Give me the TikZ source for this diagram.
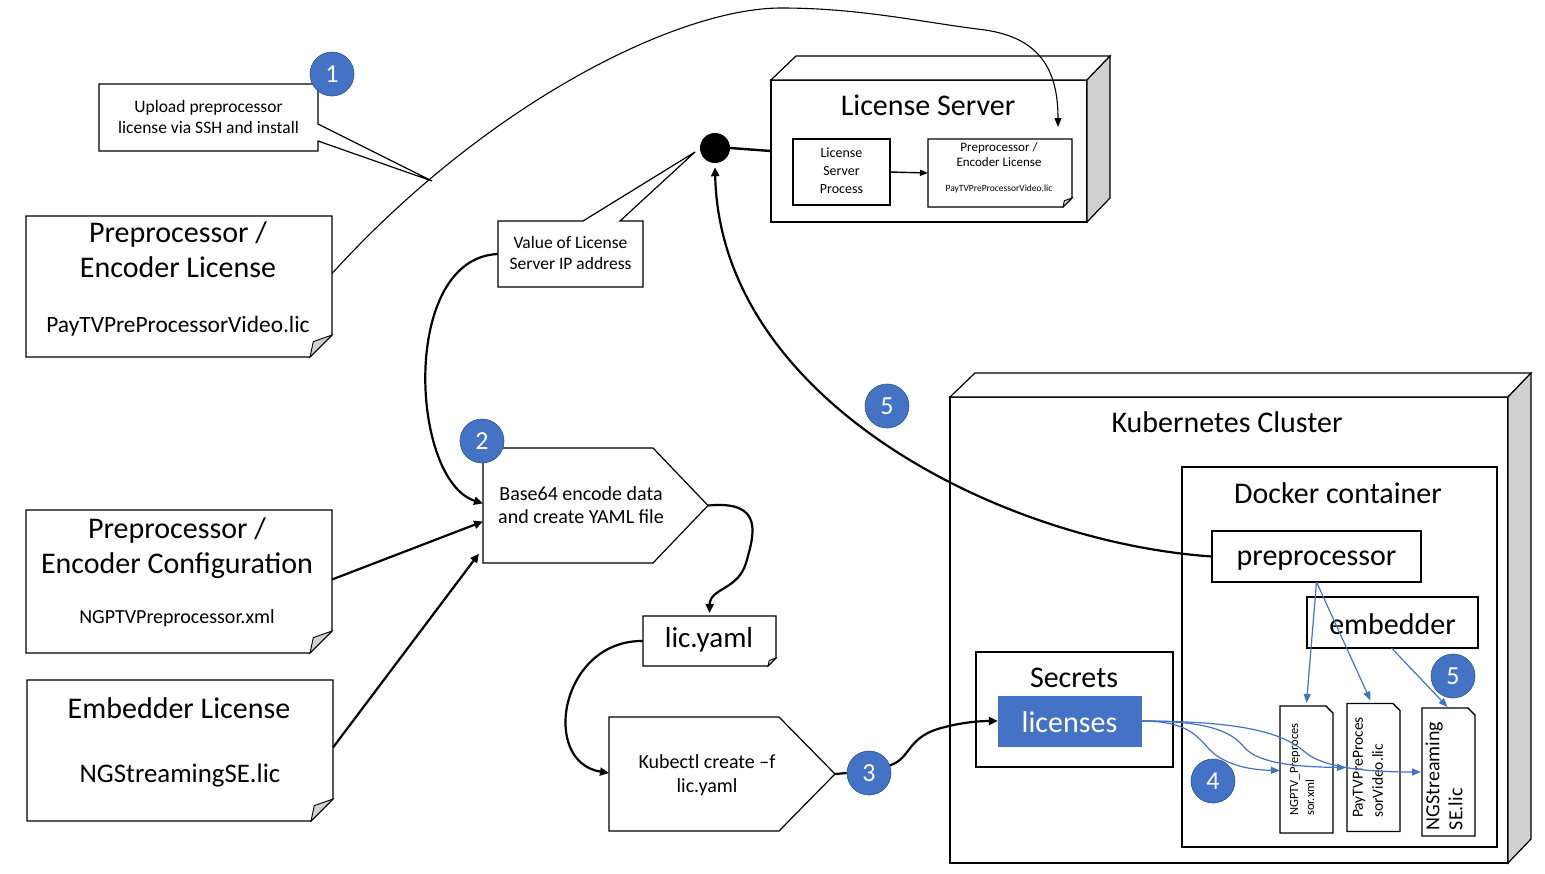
\documentclass[tikz,border=0pt]{standalone}
\usepackage{fontspec}
\setmainfont{Carlito}
\usetikzlibrary{arrows.meta}
\definecolor{cblue}{HTML}{4472C4}
\definecolor{cbluedark}{HTML}{2F528F}
\definecolor{sidegray}{HTML}{D0D0D0}
\newcommand\fsz[2]{\fontsize{#1pt}{#2pt}\selectfont}
\newcommand\docshape[2]{%
  \draw[line width=1.2pt, fill=white] (#1.north west) -- (#1.north east) -- ([yshift=#2pt]#1.south east) -- ([xshift=-#2pt]#1.south east) -- (#1.south west) -- cycle;
  \draw[line width=0.9pt, fill=sidegray] ([yshift=#2pt]#1.south east) -- ([xshift=-0.85*#2pt, yshift=0.7*#2pt]#1.south east) -- ([xshift=-#2pt]#1.south east) -- cycle;
}
\newcommand\docshapetr[2]{%
  \draw[line width=1.2pt, fill=white] (#1.north west) -- ([xshift=-#2pt]#1.north east) -- ([yshift=-#2pt]#1.north east) -- (#1.south east) -- (#1.south west) -- cycle;
  \draw[line width=0.8pt] ([xshift=-#2pt]#1.north east) -- ([xshift=-0.3*#2pt, yshift=-0.75*#2pt]#1.north east) -- ([yshift=-#2pt]#1.north east);
}
\tikzset{
  frame/.style={draw=none, inner sep=0pt, outer sep=0pt},
  box/.style={draw, line width=1.2pt, fill=white, inner sep=0pt, outer sep=0pt},
  txt/.style={inner sep=0pt, outer sep=0pt, align=center},
  num/.style={circle, fill=cblue, draw=cbluedark, line width=0.6pt, minimum size=44pt, inner sep=0pt, text=white, font=\fsz{26}{26}},
  thickarrow/.style={line width=2.2pt, -{Triangle[length=9pt,width=8pt]}},
  thinarrow/.style={line width=1pt, -{Triangle[length=8pt,width=6pt]}},
  bluearrow/.style={cblue, line width=1.2pt, -{Triangle[length=9pt,width=7pt]}},
}
\begin{document}
\begin{tikzpicture}[x=1pt,y=-1pt]
\useasboundingbox (0,0) rectangle (1545,873);
\fill[white] (0,0) rectangle (1545,873);

% ---------- left documents ----------
\node[frame, minimum width=306pt, minimum height=141pt] (pel) at (179,286.5) {};
\docshape{pel}{22}
\node[txt, font=\fsz{30}{35}] (pelt) at (178,250) {Preprocessor /\\Encoder License};
\node[txt, font=\fsz{23.4}{26}] (pelf) at (178,326) {PayTVPreProcessorVideo.lic};

\node[frame, minimum width=306pt, minimum height=143pt] (pec) at (179,581.5) {};
\docshape{pec}{22}
\node[txt, font=\fsz{30}{35}] (pect) at (177,548) {Preprocessor /\\Encoder Configuration};
\node[txt, font=\fsz{20}{22}] (pecf) at (177,618) {NGPTVPreprocessor.xml};

\node[frame, minimum width=306pt, minimum height=141pt] (emb) at (180,750.5) {};
\docshape{emb}{22}
\node[txt, font=\fsz{30}{35}] (embt) at (179,708) {Embedder License};
\node[txt, font=\fsz{26.8}{30}] (embf) at (180,775) {NGStreamingSE.lic};

% ---------- callout 1 ----------
\node[frame, minimum width=219pt, minimum height=67pt] (up) at (208.5,117.5) {};
\coordinate (uptip) at (432,181);
\draw[line width=1.2pt, fill=white] (up.north west) -- (up.north east) -- ([yshift=-6.5pt]up.east) -- (uptip) -- ([yshift=-23.5pt]up.east) -- (up.south east) -- (up.south west) -- cycle;
\node[txt, font=\fsz{17.5}{20.5}] (upt) at (208.5,117) {Upload preprocessor\\license via SSH and install};

% ---------- License server ----------
\node[box, minimum width=316pt, minimum height=142pt] (ls) at (929,151) {};
\draw[line width=1.2pt, fill=white] (ls.north west) -- ++(25,-24) -- ([shift={(23,-24)}]ls.north east) -- (ls.north east) -- cycle;
\draw[line width=1.2pt, fill=sidegray] (ls.north east) -- ++(23,-24) -- ([shift={(23,-24)}]ls.south east) -- (ls.south east) -- cycle;
\node[txt, font=\fsz{30}{32}] (lst) at (928,105) {License Server};
\node[box, minimum width=97pt, minimum height=66pt] (lsp) at (841.5,172) {};
\node[txt, font=\fsz{14}{18}] (lspt) at (841.5,171) {License\\Server\\Process};
\node[frame, minimum width=144pt, minimum height=68pt] (lsd) at (1000,173) {};
\docshape{lsd}{9}
\node[txt, font=\fsz{13}{15}] (lsdt) at (999,155) {Preprocessor /\\Encoder License};
\node[txt, font=\fsz{9.5}{11}] (lsdf) at (999,189) {PayTVPreProcessorVideo.lic};
\draw[thinarrow, line width=1.4pt] (lsp.east) -- (lsd.west);

% dot
\node[circle, fill=black, minimum size=30pt, inner sep=0pt] (dot) at (715,148) {};
\draw[line width=2.4pt] (dot.east) -- (ls.west);

% ---------- value callout ----------
\node[frame, minimum width=145pt, minimum height=66pt] (va) at (570.5,254) {};
\coordinate (vatip) at (695,152);
\draw[line width=1.2pt, fill=white] (va.north west) -- ([xshift=12.5pt]va.north) -- (vatip) -- ([xshift=49.5pt]va.north) -- (va.north east) -- (va.south east) -- (va.south west) -- cycle;
\node[txt, font=\fsz{17.5}{21}] (vat) at (570.5,253) {Value of License\\Server IP address};

% ---------- base64 ----------
\node[frame, minimum width=225pt, minimum height=115pt] (b64) at (595.5,505.5) {};
\draw[line width=1.2pt, fill=white] (b64.north west) -- ([xshift=-55pt]b64.north east) -- (b64.east) -- ([xshift=-55pt]b64.south east) -- (b64.south west) -- cycle;
\node[txt, font=\fsz{20}{23.5}] (b64t) at (581,505) {Base64 encode data\\and create YAML file};

% ---------- lic.yaml ----------
\node[frame, minimum width=133pt, minimum height=50pt] (ly) at (709.5,641) {};
\docshape{ly}{8}
\node[txt, font=\fsz{29}{32}] (lyt) at (709,640) {lic.yaml};

% ---------- kubectl ----------
\node[frame, minimum width=226pt, minimum height=114pt] (kc) at (722,774) {};
\draw[line width=1.2pt, fill=white] (kc.north west) -- ([xshift=-56pt]kc.north east) -- (kc.east) -- ([xshift=-56pt]kc.south east) -- (kc.south west) -- cycle;
\node[txt, font=\fsz{20}{24}] (kct) at (707,775) {Kubectl create \textendash f\\lic.yaml};

% ---------- Kubernetes cluster ----------
\node[box, minimum width=558pt, minimum height=466pt] (k8s) at (1229,630) {};
\draw[line width=1.2pt, fill=white] (k8s.north west) -- ++(25,-24) -- ([shift={(23,-24)}]k8s.north east) -- (k8s.north east) -- cycle;
\draw[line width=1.2pt, fill=sidegray] (k8s.north east) -- ++(23,-24) -- ([shift={(23,-24)}]k8s.south east) -- (k8s.south east) -- cycle;
\node[txt, font=\fsz{30}{32}] (k8st) at (1227,422) {Kubernetes Cluster};

\node[box, minimum width=315pt, minimum height=380pt] (dock) at (1339.5,657) {};
\node[txt, font=\fsz{30}{32}] (dockt) at (1338,493) {Docker container};

\node[box, minimum width=209pt, minimum height=51pt] (pp) at (1316.5,556.5) {};
\node[txt, font=\fsz{30}{32}] (ppt) at (1316.5,561) {preprocessor};
\node[box, minimum width=171pt, minimum height=51pt] (eb) at (1392.5,622.5) {};
\node[txt, font=\fsz{30}{32}] (ebt) at (1392.5,624) {embedder};

\node[box, minimum width=197pt, minimum height=115pt] (sec) at (1074.5,709.5) {};
\node[txt, font=\fsz{30}{32}] (sect) at (1074,678) {Secrets};
\node[fill=cblue, draw=cblue, inner sep=0pt, minimum width=143pt, minimum height=50pt] (lic) at (1069.5,721) {};
\node[txt, font=\fsz{30}{32}, text=white] (lict) at (1069.5,722) {licenses};

% small docs
\node[frame, minimum width=53pt, minimum height=127pt] (d1) at (1306.5,769.5) {};
\docshapetr{d1}{7}
\node[txt, align=left, rotate=90, font=\fsz{12.5}{16}] (d1t) at (1302,769.5) {NGPTV\_Preproces\\sor.xml};
\node[frame, minimum width=53pt, minimum height=128pt] (d2) at (1373.5,767.5) {};
\docshapetr{d2}{7}
\node[txt, align=left, rotate=90, font=\fsz{15.5}{20}] (d2t) at (1368,767.5) {PayTVPreProces\\sorVideo.lic};
\node[frame, minimum width=53pt, minimum height=128pt] (d3) at (1448.5,772) {};
\docshapetr{d3}{7}
\node[txt, align=left, rotate=90, font=\fsz{20}{23}] (d3t) at (1444,776) {NGStreaming\\SE.lic};

% ---------- connectors ----------
% top curve
\coordinate (lsdin) at ([xshift=-14pt,yshift=12pt]lsd.north east);
\draw[line width=1.1pt, -{Triangle[length=9pt,width=7pt]}] ([yshift=13pt]pel.east) .. controls (490,100) and (680,8) .. (781,8) .. controls (860,8) and (920,22) .. (985,30) .. controls (1040,38) and (1058,70) .. (lsdin);

% value callout -> base64
\draw[thickarrow] (va.west) .. controls (400,258) and (410,480) .. ([yshift=2pt]b64.west);
\draw[thickarrow] ([yshift=2pt]pec.east) -- ([yshift=-16pt]b64.west);
\draw[thickarrow] ([yshift=3pt]emb.east) -- ([xshift=-4pt,yshift=-48pt]b64.west);
% base64 -> lic.yaml
\draw[thickarrow] (b64.east) .. controls (765,500) and (754,535) .. (746,563) .. controls (738,590) and (710,588) .. ([yshift=3pt]ly.north);
% lic.yaml -> kubectl
\draw[thickarrow] (ly.west) .. controls (560,640) and (540,762) .. ([yshift=1pt]kc.west);

% circle 3
\node[num] (n3) at (869,773) {3};
\draw[line width=2.2pt] (kc.east) -- (n3.west);
\draw[thickarrow] (n3.20) .. controls (912,758) and (906,736) .. (945,727) .. controls (965,722) and (980,721) .. (lic.west);

% preprocessor -> dot
\draw[thickarrow] (pp.west) .. controls (1000,542) and (720,400) .. ([yshift=-4pt]dot.south);

% blue arrows
\draw[bluearrow] (pp.south) -- ([yshift=3pt]d1.north);
\draw[bluearrow] (pp.south) -- ([xshift=-3pt,yshift=3pt]d2.north);
\draw[bluearrow] ([xshift=-1pt]eb.south) -- ([xshift=-1pt,yshift=1pt]d3.north);
\draw[bluearrow] (lic.east) .. controls (1190,721) and (1198,738) .. (1210,750) .. controls (1225,765) and (1250,770) .. ([yshift=-1pt]d1.west);
\draw[bluearrow] (lic.east) .. controls (1205,721) and (1230,730) .. (1244,747) .. controls (1258,764) and (1300,767) .. ([xshift=-1pt]d2.west);
\draw[bluearrow] (lic.east) .. controls (1250,721) and (1285,735) .. (1305,752) .. controls (1325,770) and (1380,772) .. ([xshift=-1pt]d3.west);

% numbered circles
\node[num] (n1) at (332,74) {1};
\node[num] (n2) at (482,441) {2};
\node[num] (n5a) at (887,406) {5};
\node[num] (n4) at (1213,781) {4};
\node[num] (n5b) at (1453,676) {5};
\end{tikzpicture}
\end{document}
